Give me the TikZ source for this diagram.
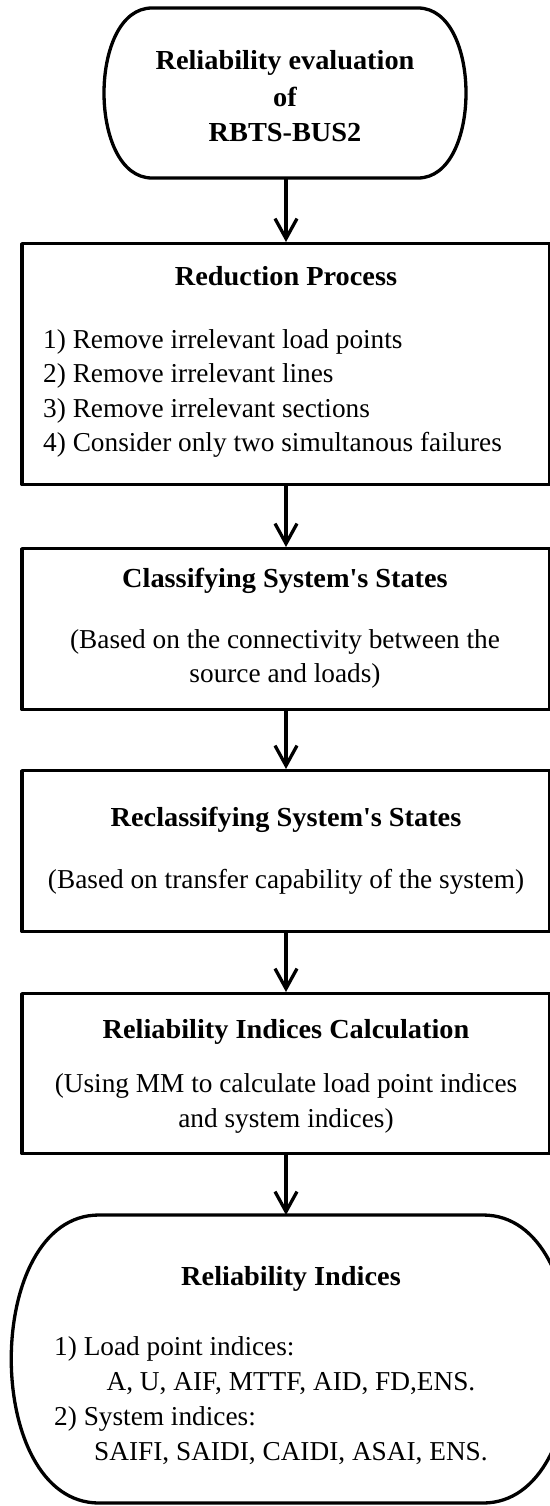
\documentclass[tikz,border=0pt]{standalone}
\usepackage{fontspec}
\setmainfont{Liberation Serif}[BoldFeatures={FakeStretch=1.03}]
\usetikzlibrary{arrows.meta}
\begin{document}
\begin{tikzpicture}[x=1pt,y=-1pt,
  outline/.style={draw=black, line width=3.3pt, line join=round},
  procbox/.style={outline, rectangle, minimum width=528pt, inner sep=0pt, anchor=north},
  flow/.style={line width=3.3pt, -{Straight Barb[length=20pt,width=22pt]}},
  heading/.style={font=\fontsize{27.5}{34.5}\selectfont\bfseries, anchor=base, inner sep=0pt},
  body/.style={font=\fontsize{27.3}{34.5}\selectfont, anchor=base, inner sep=0pt},
  bodyleft/.style={body, anchor=base west}]
\useasboundingbox (0,0) rectangle (549,1506);

% start terminal
\draw[outline] (152,8) -- (418,8) .. controls (482,8) and (482,178) .. (418,178)
  -- (152,178) .. controls (88,178) and (88,8) .. cycle;
\coordinate (startbot) at (286,178);
\node[heading] (s1) at (285,70) {Reliability evaluation};
\node[heading] (s2) at (285,107) {of};
\node[heading] (s3) at (285,142) {RBTS-BUS2};

% process boxes
\node[procbox, minimum height=241pt] (b1) at (286,242) {};
\node[procbox, minimum height=161pt] (b2) at (286,547) {};
\node[procbox, minimum height=161pt] (b3) at (286,769) {};
\node[procbox, minimum height=160pt] (b4) at (286,992) {};

% end terminal
\draw[outline] (99,1215) -- (483,1215) .. controls (600,1215) and (600,1503) .. (483,1503)
  -- (99,1503) .. controls (-18,1503) and (-18,1215) .. cycle;
\coordinate (endtop) at (286,1215);

% box 1
\node[heading] (h1) at (286,285) {Reduction Process};
\node[bodyleft] (r1) at (43,348) {1) Remove irrelevant load points};
\node[bodyleft] (r2) at (43,382.5) {2) Remove irrelevant lines};
\node[bodyleft] (r3) at (43,417) {3) Remove irrelevant sections};
\node[bodyleft] (r4) at (43,451.5) {4) Consider only two simultanous failures};

% box 2
\node[heading] (h2) at (285,587) {Classifying System\textquotesingle s States};
\node[body] (c1) at (285,648) {(Based on the connectivity between the};
\node[body] (c2) at (285,682) {source and loads)};

% box 3
\node[heading] (h3) at (286,826) {Reclassifying System\textquotesingle s States};
\node[body] (d1) at (286,888) {(Based on transfer capability of the system)};

% box 4
\node[heading] (h4) at (286,1038) {Reliability Indices Calculation};
\node[body] (e1) at (286,1092) {(Using MM to calculate load point indices};
\node[body] (e2) at (286,1127) {and system indices)};

% end terminal text
\node[heading] (h5) at (291,1285) {Reliability Indices};
\node[bodyleft] (f1) at (54,1355) {1) Load point indices:};
\node[body] (f2) at (291,1390) {A, U, AIF, MTTF, AID, FD,ENS.};
\node[bodyleft] (f3) at (54,1425) {2) System indices:};
\node[body] (f4) at (291,1460) {SAIFI, SAIDI, CAIDI, ASAI, ENS.};

% connectors
\draw[flow] (startbot) -- (b1.north);
\draw[flow] (b1.south) -- (b2.north);
\draw[flow] (b2.south) -- (b3.north);
\draw[flow] (b3.south) -- (b4.north);
\draw[flow] (b4.south) -- (endtop);
\end{tikzpicture}
\end{document}
